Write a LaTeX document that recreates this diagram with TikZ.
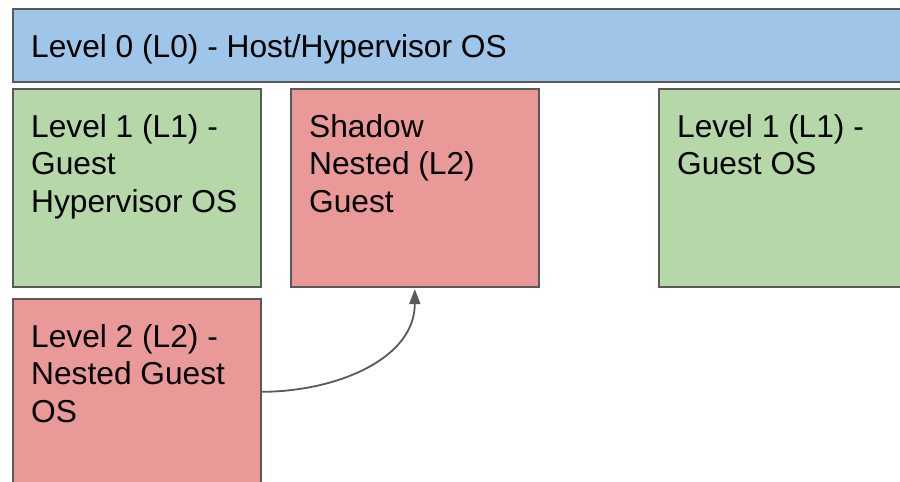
\documentclass[tikz,border=0pt]{standalone}
\usepackage{fontspec}
\setmainfont{Liberation Sans}
\usetikzlibrary{arrows.meta,calc}
\definecolor{boxblue}{HTML}{9FC5E8}
\definecolor{boxgreen}{HTML}{B6D7A8}
\definecolor{boxred}{HTML}{EA9999}
\definecolor{edgegray}{HTML}{595959}
\tikzset{
  box/.style={draw=edgegray, line width=1.6pt, rectangle, inner sep=0pt, anchor=north west},
  lbl/.style={anchor=base west, align=left, inner sep=0pt, font=\fontsize{31.7}{37.5}\selectfont},
  link/.style={draw=edgegray, line width=1.8pt, shorten >=1.5pt, -{Triangle[length=15pt,width=11pt]}},
}
\begin{document}
\begin{tikzpicture}[x=1pt,y=-1pt]
\useasboundingbox (0,0) rectangle (900,482);
\fill[white] (0,0) rectangle (900,482);
\clip (0,0) rectangle (900,482);
\node[box, fill=boxblue, minimum width=900pt, minimum height=73pt] (l0) at (12,8) {};
\node[box, fill=boxgreen, minimum width=248pt, minimum height=198pt] (l1) at (12,88) {};
\node[box, fill=boxred, minimum width=248pt, minimum height=198pt] (shadow) at (290,88) {};
\node[box, fill=boxgreen, minimum width=260pt, minimum height=198pt] (l1b) at (658,88) {};
\node[box, fill=boxred, minimum width=248pt, minimum height=186pt] (l2) at (12,298) {};
\node[lbl] (t0) at ($(l0.north west)+(19,49)$) {Level 0 (L0) - Host/Hypervisor OS};
\node[lbl] (t1) at ($(l1.north west)+(19,124)$) {Level 1 (L1) -\\Guest\\Hypervisor OS};
\node[lbl] (ts) at ($(shadow.north west)+(19,124)$) {Shadow\\Nested (L2)\\Guest};
\node[lbl] (t1b) at ($(l1b.north west)+(19,86.5)$) {Level 1 (L1) -\\Guest OS};
\node[lbl] (t2) at ($(l2.north west)+(19,124)$) {Level 2 (L2) -\\Nested Guest\\OS};
\draw[link] (l2.east) to[out=0,in=-90] (shadow.south);
\end{tikzpicture}
\end{document}
